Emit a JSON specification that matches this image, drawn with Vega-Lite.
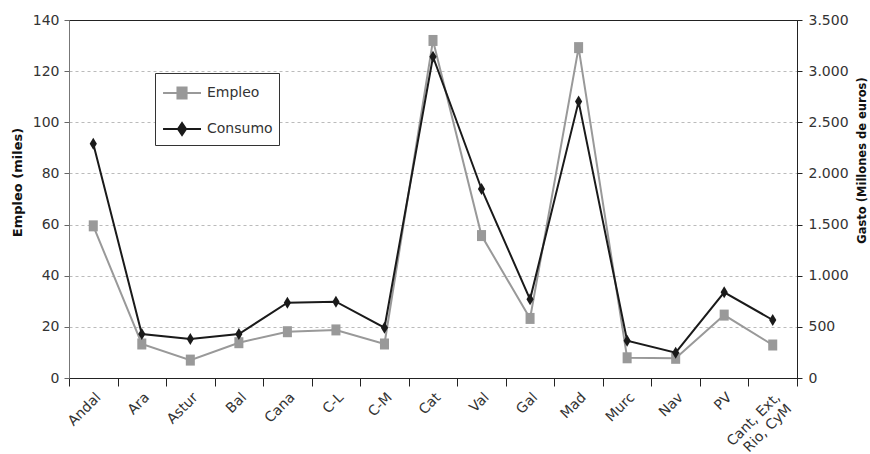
{
  "$schema": "https://vega.github.io/schema/vega-lite/v6.json",
  "width": 728,
  "height": 358,
  "autosize": {"type": "none"},
  "padding": {"left": 69, "top": 20, "right": 73, "bottom": 76},
  "background": "white",
  "config": {
    "font": "DejaVu Sans",
    "view": {"stroke": "#222222", "strokeWidth": 1},
    "axis": {"labelFont": "DejaVu Sans", "titleFont": "DejaVu Sans", "labelColor": "#333333", "titleColor": "#111111"}
  },
  "data": {
    "values": [
      {"region": "Andal", "empleo": 59.5, "consumo": 2290},
      {"region": "Ara", "empleo": 13.3, "consumo": 430},
      {"region": "Astur", "empleo": 7.0, "consumo": 381},
      {"region": "Bal", "empleo": 13.8, "consumo": 430},
      {"region": "Cana", "empleo": 18.1, "consumo": 736},
      {"region": "C-L", "empleo": 18.8, "consumo": 746},
      {"region": "C-M", "empleo": 13.3, "consumo": 492},
      {"region": "Cat", "empleo": 132, "consumo": 3141},
      {"region": "Val", "empleo": 55.7, "consumo": 1848},
      {"region": "Gal", "empleo": 23.3, "consumo": 769},
      {"region": "Mad", "empleo": 129.2, "consumo": 2702},
      {"region": "Murc", "empleo": 7.9, "consumo": 365},
      {"region": "Nav", "empleo": 7.7, "consumo": 248},
      {"region": "PV", "empleo": 24.6, "consumo": 838},
      {"region": "Cant, Ext, Rio, CyM", "empleo": 12.9, "consumo": 567}
    ]
  },
  "encoding": {
    "x": {
      "field": "region",
      "type": "nominal",
      "sort": null,
      "bandPosition": 0.5,
      "scale": {"type": "band", "paddingInner": 0, "paddingOuter": 0},
      "axis": {
        "title": null,
        "tickBand": "extent",
        "labelAngle": -45,
        "labelFontSize": 14,
        "labelPadding": 4,
        "tickSize": 8,
        "tickColor": "#222222",
        "domainColor": "#222222",
        "labelExpr": "datum.label == 'Cant, Ext, Rio, CyM' ? ['Cant, Ext,', 'Rio, CyM'] : datum.label"
      }
    }
  },
  "layer": [
    {
      "mark": {
        "type": "line",
        "strokeWidth": 2,
        "point": {"filled": true, "shape": "M-0.82,-1H0.82V1H-0.82Z", "size": 121, "opacity": 1}
      },
      "encoding": {
        "y": {
          "field": "empleo",
          "type": "quantitative",
          "scale": {"domain": [0, 140], "nice": false},
          "axis": {
            "title": "Empleo (miles)",
            "titleFontSize": 13,
            "titleFontWeight": "bold",
            "titlePadding": 8,
            "titleY": 162,
            "values": [0, 20, 40, 60, 80, 100, 120, 140],
            "labelFontSize": 14,
            "labelPadding": 5,
            "tickSize": 5,
            "tickColor": "#666666",
            "domainColor": "#777777",
            "grid": true,
            "gridDash": {"condition": {"test": "datum.value === 140", "value": []}, "value": [3, 3]},
            "gridColor": {"condition": {"test": "datum.value === 140", "value": "#222222"}, "value": "#bbbbbb"},
            "gridWidth": 1
          }
        },
        "color": {
          "datum": "Empleo",
          "scale": {"domain": ["Empleo", "Consumo"], "range": ["#999999", "#1a1a1a"]},
          "legend": {
            "title": null,
            "orient": "none",
            "legendX": 86,
            "legendY": 53,
            "padding": 6,
            "strokeColor": "#333333",
            "fillColor": "white",
            "symbolSize": 676,
            "rowPadding": 12,
            "labelOffset": 18,
            "labelFontSize": 14,
            "labelFont": "DejaVu Sans",
            "labelColor": "#333333",
            "labelExpr": "datum.label + '   '",
            "encode": {
              "symbols": {
                "update": {
                  "shape": {"signal": "datum.value === 'Empleo' ? 'M-0.92,0H2M0.19,-0.42H0.89V0.42H0.19Z' : 'M-0.92,0H2M0.54,-0.46L0.85,0L0.54,0.46L0.23,0Z'"},
                  "fill": {"signal": "datum.value === 'Empleo' ? '#999999' : '#1a1a1a'"},
                  "stroke": {"signal": "datum.value === 'Empleo' ? '#999999' : '#1a1a1a'"},
                  "strokeWidth": {"value": 2},
                  "opacity": {"value": 1},
                  "fillOpacity": {"value": 1},
                  "strokeOpacity": {"value": 1}
                }
              }
            }
          }
        }
      }
    },
    {
      "mark": {
        "type": "line",
        "strokeWidth": 2,
        "point": {"filled": true, "shape": "M0,-1L0.6,0L0,1L-0.6,0Z", "size": 144, "opacity": 1}
      },
      "encoding": {
        "y": {
          "field": "consumo",
          "type": "quantitative",
          "scale": {"domain": [0, 3500], "nice": false},
          "axis": {
            "orient": "right",
            "title": "Gasto (Millones de euros)",
            "titleFontSize": 11.5,
            "titleFontWeight": "bold",
            "titleAngle": -90,
            "titleBaseline": "top",
            "titlePadding": 8,
            "titleY": 140,
            "values": [0, 500, 1000, 1500, 2000, 2500, 3000, 3500],
            "labelExpr": "replace(format(datum.value, ','), ',', '.')",
            "labelFontSize": 14,
            "labelPadding": 6,
            "tickSize": 5,
            "tickColor": "#222222",
            "domainColor": "#222222",
            "grid": false
          }
        },
        "color": {"datum": "Consumo"}
      }
    }
  ],
  "resolve": {"scale": {"y": "independent"}}
}
